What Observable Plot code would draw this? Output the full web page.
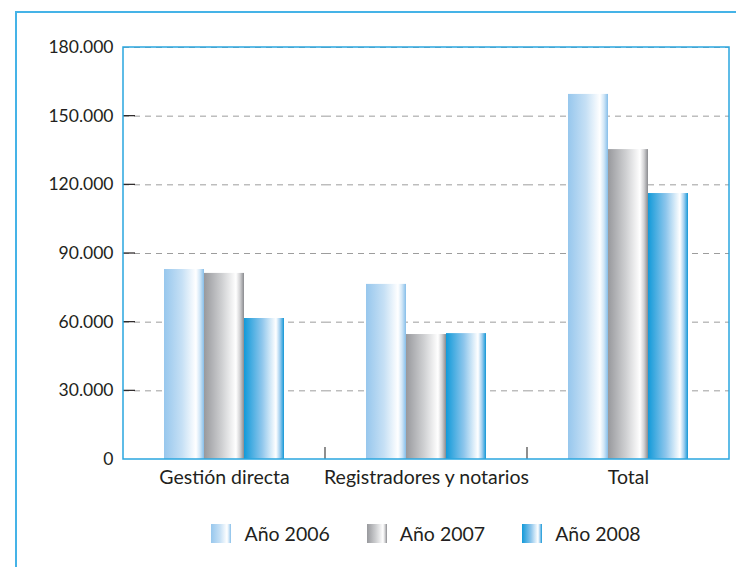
<!DOCTYPE html>
<html><head><meta charset="utf-8">
<script src="https://cdn.jsdelivr.net/npm/d3@7"></script>
<script src="https://cdn.jsdelivr.net/npm/@observablehq/plot@0.6"></script>
<style>
body{margin:0;background:#fff;font-family:Lato,"DejaVu Sans",sans-serif;color:#231f20;}
#wrap{position:relative;width:736px;height:567px;overflow:hidden;}
#border{position:absolute;left:15px;top:11px;width:800px;height:700px;border-left:2px solid #45b3e7;border-top:2px solid #45b3e7;}
#chart{position:absolute;left:0;top:0;}
#legend{position:absolute;top:522px;left:123px;width:606px;display:flex;justify-content:center;gap:37px;font-size:19.5px;}
.item{display:flex;align-items:center;gap:13px;}
</style></head>
<body>
<svg width="0" height="0" style="position:absolute">
  <defs>
    <linearGradient id="g2006" x1="0" x2="1" y1="0" y2="0">
      <stop offset="0" stop-color="#97c7ed"/>
      <stop offset="0.45" stop-color="#c6e0f5"/>
      <stop offset="0.8" stop-color="#ffffff"/>
      <stop offset="0.9" stop-color="#d0e6f7"/>
      <stop offset="1" stop-color="#86bee9"/>
    </linearGradient>
    <linearGradient id="g2007" x1="0" x2="1" y1="0" y2="0">
      <stop offset="0" stop-color="#98999d"/>
      <stop offset="0.45" stop-color="#cfd0d2"/>
      <stop offset="0.8" stop-color="#ffffff"/>
      <stop offset="0.9" stop-color="#d2d2d4"/>
      <stop offset="1" stop-color="#8a8b8f"/>
    </linearGradient>
    <linearGradient id="g2008" x1="0" x2="1" y1="0" y2="0">
      <stop offset="0" stop-color="#129ad9"/>
      <stop offset="0.45" stop-color="#8ec6ec"/>
      <stop offset="0.8" stop-color="#ffffff"/>
      <stop offset="0.9" stop-color="#a0cff0"/>
      <stop offset="1" stop-color="#1497d6"/>
    </linearGradient>
  </defs>
</svg>
<div id="wrap">
  <div id="border"></div>
  <div id="chart"></div>
  <div id="legend"></div>
</div>
<script>
const categories = ["Gestión directa", "Registradores y notarios", "Total"];
const years = ["Año 2006", "Año 2007", "Año 2008"];
const values2006 = [83000, 76500, 159500];
const values2007 = [81300, 54600, 135400];
const values2008 = [61600, 55000, 116200];
const yTicks = [0, 30000, 60000, 90000, 120000, 150000, 180000];
const yTickLabels = ["0", "30.000", "60.000", "90.000", "120.000", "150.000", "180.000"];
const fills = ["url(#g2006)", "url(#g2007)", "url(#g2008)"];

const series = [values2006, values2007, values2008];
const data = categories.flatMap((c, i) => years.map((y, j) => ({cat: c, year: y, value: series[j][i]})));

const chart = Plot.plot({
  width: 736, height: 500,
  marginLeft: 123, marginRight: 7, marginTop: 47, marginBottom: 41,
  style: {background: "transparent", fontFamily: "Lato, sans-serif", fontSize: "17.5px", color: "#231f20", overflow: "visible"},
  fx: {domain: categories, padding: 0, label: null},
  x: {domain: years, paddingInner: 0, paddingOuter: 0.98, axis: null},
  y: {domain: [0, 180000], label: null},
  color: {domain: years, range: fills},
  marks: [
    Plot.ruleY(yTicks.slice(1), {stroke: "#9d9d9d", strokeDasharray: "6,5", strokeWidth: 1}),
    Plot.barY(data, {fx: "cat", x: "year", y: "value", fill: "year"}),
    Plot.axisY(yTicks, {tickFormat: d => yTickLabels[yTicks.indexOf(d)], tickSize: 0, tickPadding: 10, label: null, fontSize: 17.5}),
    Plot.axisFx({anchor: "bottom", tickSize: 0, tickPadding: 11, label: null, fontSize: 19.5})
  ]
});
document.getElementById("chart").appendChild(chart);

// frame and small ticks drawn from the plot's own scales
const sy = chart.scale("y"), sfx = chart.scale("fx");
const y = d3.scaleLinear().domain(sy.domain).range(sy.range);
const fx = d3.scaleBand().domain(sfx.domain).range(sfx.range)
  .paddingInner(sfx.paddingInner ?? 0).paddingOuter(sfx.paddingOuter ?? 0).align(sfx.align ?? 0.5);
const svg = d3.select(chart);
const x0 = d3.min(sfx.range), x1 = d3.max(sfx.range);
svg.append("g").attr("stroke", "#231f20").attr("stroke-width", 1.2)
  .selectAll("line").data(yTicks.slice(1, -1)).join("line")
  .attr("x1", x0).attr("x2", x0 + 12).attr("y1", d => y(d)).attr("y2", d => y(d));
svg.append("g").attr("stroke", "#444").attr("stroke-width", 1.2)
  .selectAll("line").data(categories.slice(1)).join("line")
  .attr("x1", d => fx(d)).attr("x2", d => fx(d)).attr("y1", y(0)).attr("y2", y(0) - 12);
svg.append("rect").attr("x", x0).attr("y", y(180000)).attr("width", x1 - x0).attr("height", y(0) - y(180000))
  .attr("fill", "none").attr("stroke", "#2aa6df").attr("stroke-width", 1.5);

// legend
const legend = d3.select("#legend");
years.forEach((yr, i) => {
  const it = legend.append("div").attr("class", "item");
  it.append("svg").attr("width", 20).attr("height", 19)
    .append("rect").attr("width", 20).attr("height", 19).attr("fill", fills[i]);
  it.append("span").text(yr);
});
</script>
</body></html>
